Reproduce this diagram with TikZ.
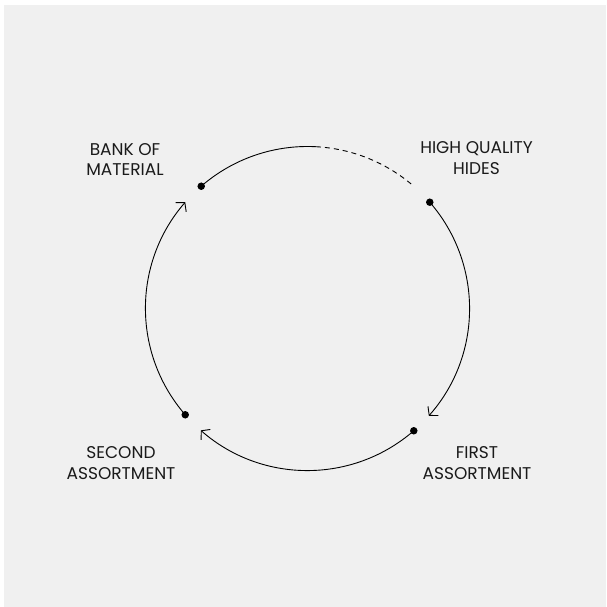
\documentclass[tikz,border=0pt]{standalone}
\usepackage{fontspec}
\setmainfont{Poppins}
\usetikzlibrary{arrows.meta,calc}
\definecolor{bg}{HTML}{F0F0F0}
\definecolor{ink}{HTML}{1A1A1A}
\tikzset{
  dot/.style={circle,fill=black,inner sep=0pt,minimum size=7.5pt},
  lbl/.style={align=center,text=ink,font=\fontsize{17}{20.5}\selectfont},
  ring/.style={line width=0.9pt,black},
  tip/.style={-{Straight Barb[length=6pt,width=14pt,line width=0.9pt]}},
}
\begin{document}
\begin{tikzpicture}[x=1pt,y=1pt]
\fill[white] (0,0) rectangle (606,607);
\useasboundingbox (0,0) rectangle (606,607);
\fill[bg] (4,0) rectangle (606,602);
\coordinate (c) at (307.5,298.5);
\def\R{162}
\node[dot] (bank) at ($(c)+(131:\R)$) {};
\node[dot] (hq) at ($(c)+(41:\R)$) {};
\node[dot] (first) at ($(c)+(-49:\R)$) {};
\node[dot] (second) at ($(c)+(-139:\R)$) {};
\draw[ring] (bank.center) arc[start angle=131,end angle=87,radius=\R];
\draw[ring,dash pattern=on 5pt off 4pt] ($(c)+(87:\R)$) arc[start angle=87,end angle=49,radius=\R];
\draw[ring,tip] (hq.center) arc[start angle=41,end angle=-41.5,radius=\R];
\draw[ring,tip] (first.center) arc[start angle=-49,end angle=-131.2,radius=\R];
\draw[ring,tip] (second.center) arc[start angle=-139,end angle=-221,radius=\R];
\node[lbl] (tbank) at (125,447.5) {BANK OF\\MATERIAL};
\node[lbl] (thq) at (476.5,449) {HIGH QUALITY\\HIDES};
\node[lbl] (tfirst) at (477,144) {FIRST\\ASSORTMENT};
\node[lbl] (tsecond) at (121,144) {SECOND\\ASSORTMENT};
\end{tikzpicture}
\end{document}
